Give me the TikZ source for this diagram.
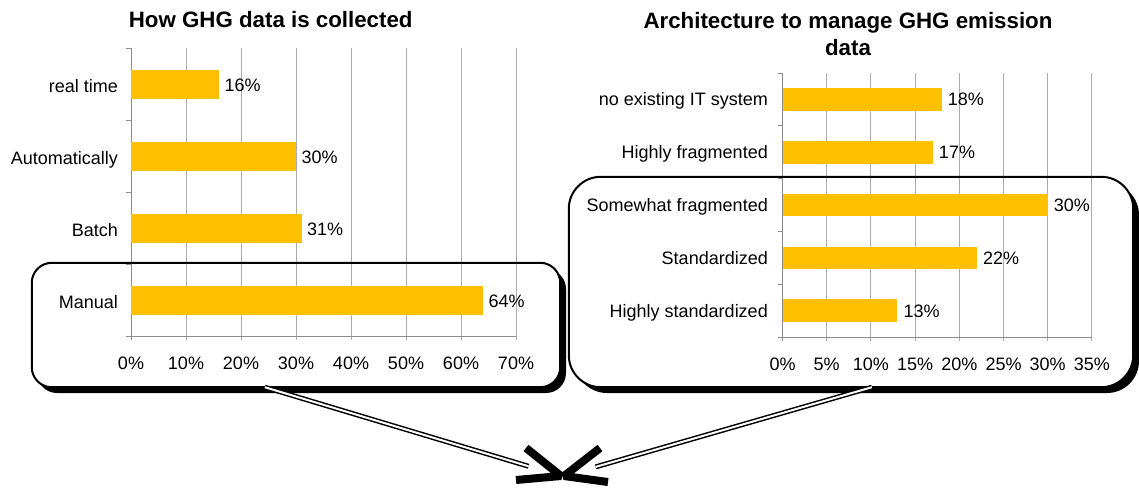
\documentclass[tikz,border=0pt]{standalone}
\usepackage{fontspec}
\setmainfont{Liberation Sans}
\usetikzlibrary{calc}
\definecolor{bargold}{HTML}{FFC000}
\definecolor{gridgray}{HTML}{ABABAB}
\definecolor{axisgray}{HTML}{8C8C8C}
\newcommand\lblfont{\fontsize{18}{18}\selectfont}
\tikzset{
  barfill/.style={fill=bargold, draw=none},
  gridln/.style={draw=gridgray, line width=1pt},
  axisln/.style={draw=axisgray, line width=1pt},
  catlabel/.style={anchor=base east, inner sep=0pt, font=\lblfont},
  vallabel/.style={anchor=base west, inner sep=0pt, font=\lblfont},
  ticklabel/.style={anchor=base, inner sep=0pt, font=\lblfont},
  charttitle/.style={anchor=base, inner sep=0pt, align=center, font=\bfseries\fontsize{22.3}{27}\selectfont},
  calloutbox/.style={draw=none, fill=white, inner sep=0pt},
  calloutedge/.style={draw=black, line width=2pt},
  shadowfill/.style={fill=black},
  dblarrow/.style={draw=black, double=white, double distance=2pt, line width=1.5pt},
  headln/.style={draw=black, line width=8pt, line join=bevel}
}
\begin{document}
\begin{tikzpicture}[x=1pt,y=-1pt]
\useasboundingbox (0,0) rectangle (1139,491);

% ---------- callout boxes (shadow + white fill) ----------
\fill[shadowfill, rounded corners=20pt] (37,269) rectangle (566,393);
\node[calloutbox, rounded corners=20pt, minimum width=528pt, minimum height=124pt] (lbox) at (296,325) {};
\fill[shadowfill, rounded corners=32pt] (575,183) rectangle (1139,393);
\node[calloutbox, rounded corners=32pt, minimum width=564pt, minimum height=210pt] (rbox) at (851,282) {};

% ---------- left chart ----------
\node[charttitle] (ltitle) at (270.7,27.3) {How GHG data is collected};
\foreach \k in {1,...,7} \draw[gridln] ({131+55*\k},48) -- ({131+55*\k},340);
\draw[axisln] (131,48) -- (131,340);
\draw[axisln] (126,336) -- (516,336);
\foreach \yy in {48,120,192,264} \draw[axisln] (126,\yy) -- (131,\yy);
\foreach \lab/\val [count=\i] in {real time/16, Automatically/30, Batch/31, Manual/64} {
  \pgfmathsetmacro\yc{84+72*(\i-1)}
  \fill[barfill] (131,\yc-14.5) rectangle ({131+5.5*\val},\yc+14.5);
  \node[catlabel] (lcat\i) at (118,\yc+8) {\lab};
  \node[vallabel] (lval\i) at ({131+5.5*\val+5.5},\yc+7.5) {\val\%};
}
\foreach \k in {0,...,7} {
  \pgfmathtruncatemacro\pc{10*\k}
  \node[ticklabel] (ltick\k) at ({131+55*\k},369) {\pc\%};
}

% ---------- right chart ----------
\node[charttitle] (rtitle) at (848,55.3) {Architecture to manage GHG emission\\data};
\foreach \k in {1,...,7} \draw[gridln] ({782.5+44.2*\k},73) -- ({782.5+44.2*\k},341);
\draw[axisln] (782.5,73) -- (782.5,341);
\draw[axisln] (778,337) -- (1092,337);
\foreach \yy in {73,125.8,178.6,231.4,284.2} \draw[axisln] (778,\yy) -- (782.5,\yy);
\foreach \lab/\val [count=\i] in {no existing IT system/18, Highly fragmented/17, Somewhat fragmented/30, Standardized/22, Highly standardized/13} {
  \pgfmathsetmacro\yc{99.4+52.8*(\i-1)}
  \fill[barfill] (782.5,\yc-11.3) rectangle ({782.5+8.84*\val},\yc+11.3);
  \node[catlabel] (rcat\i) at (768,\yc+6.5) {\lab};
  \node[vallabel] (rval\i) at ({782.5+8.84*\val+6},\yc+6.5) {\val\%};
}
\foreach \k in {0,...,7} {
  \pgfmathtruncatemacro\pc{5*\k}
  \node[ticklabel] (rtick\k) at ({782.5+44.2*\k},370) {\pc\%};
}

% ---------- callout outlines ----------
\draw[calloutedge, rounded corners=20pt] (lbox.north west) rectangle (lbox.south east);
\draw[calloutedge, rounded corners=32pt] (rbox.north west) rectangle (rbox.south east);

% ---------- arrows ----------
\coordinate (ltip) at (561,476);
\coordinate (rtip) at (564,476);
\coordinate (lstart) at ($(lbox.south west)!0.441!(lbox.south east)$);
\coordinate (rstart) at ($(rbox.south west)!0.537!(rbox.south east)$);
\draw[dblarrow, shorten >=34pt] (lstart) -- (ltip);
\draw[dblarrow, shorten >=33pt] (rstart) -- (rtip);
\draw[headln] ($(ltip)+(-35,-28)$) -- (ltip) -- ($(ltip)+(-45,4)$);
\draw[headln] ($(rtip)+(36,-28)$) -- (rtip) -- ($(rtip)+(44,6)$);
\end{tikzpicture}
\end{document}
